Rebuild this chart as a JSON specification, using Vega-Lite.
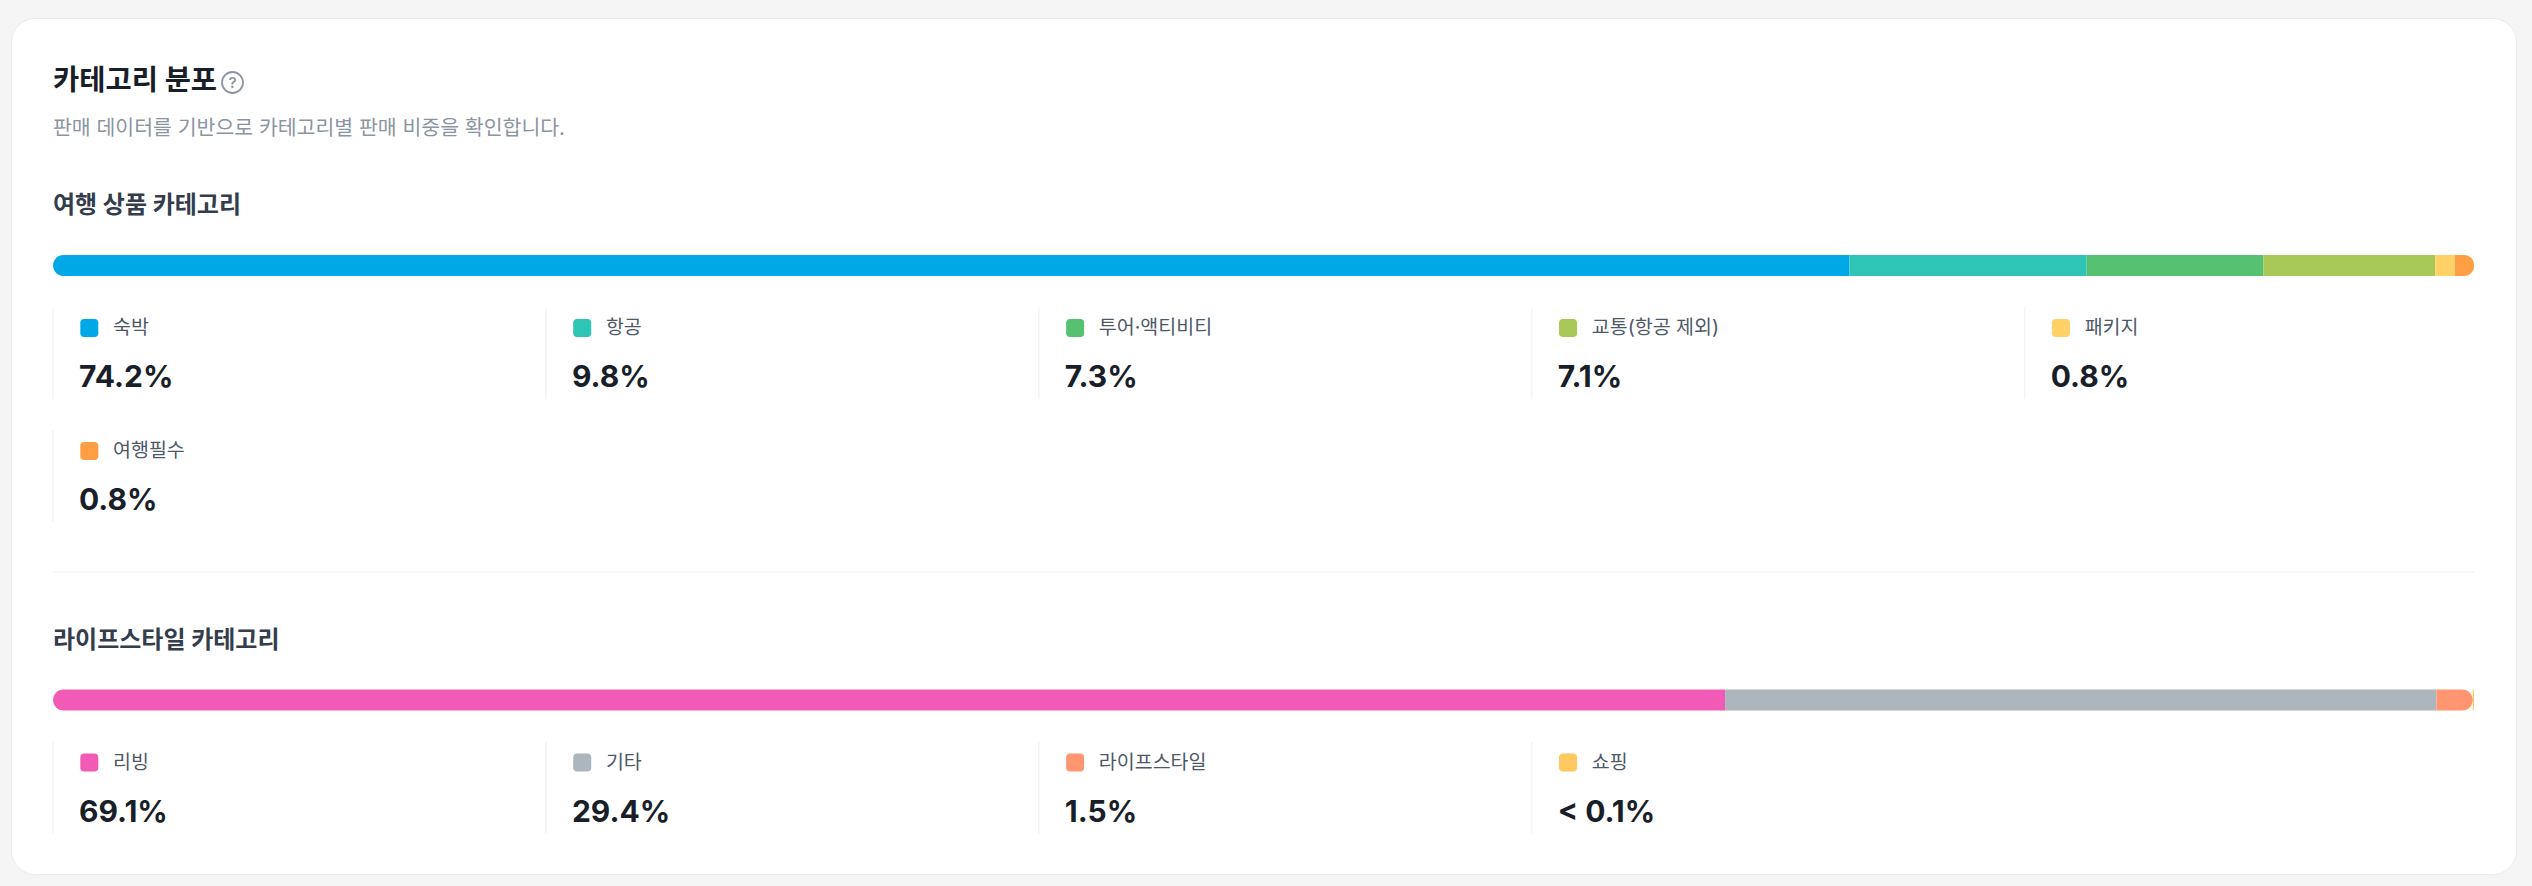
{
  "$schema": "https://vega.github.io/schema/vega-lite/v6.json",
  "description": "카테고리 분포 - 여행 / 라이프스타일 카테고리별 판매 비중",
  "width": 2532,
  "height": 886,
  "autosize": {"type": "fit", "contains": "padding"},
  "padding": {"left": 11, "top": 18, "right": 16, "bottom": 12},
  "background": "#f5f5f5",
  "config": {
    "view": {"fill": "#ffffff", "stroke": "#ebebeb", "strokeWidth": 1, "cornerRadius": 24},
    "axis": {"disable": true},
    "text": {"font": "Inter, Noto Sans CJK KR", "align": "left", "baseline": "middle"}
  },
  "layer": [
    {
      "data": {"values": [{}]},
      "layer": [
        {
          "mark": {"type": "text", "fontSize": 28.5, "fontWeight": 700, "color": "#191f28"},
          "encoding": {
            "x": {"datum": 0, "type": "quantitative", "scale": {"domain": [-0.01735, 1.01735], "nice": false, "zero": false}},
            "y": {"datum": 63, "type": "quantitative", "scale": {"domain": [0, 856], "reverse": true, "nice": false, "zero": false}},
            "text": {"value": "카테고리 분포"}
          }
        },
        {
          "mark": {"type": "point", "shape": "circle", "size": 441, "filled": false, "stroke": "#8b95a1", "strokeWidth": 1.8, "opacity": 1, "xOffset": 179.5},
          "encoding": {
            "x": {"datum": 0, "type": "quantitative"},
            "y": {"datum": 64.5, "type": "quantitative"}
          }
        },
        {
          "mark": {"type": "text", "fontSize": 15, "fontWeight": 600, "color": "#8b95a1", "align": "center", "dx": 179.5},
          "encoding": {
            "x": {"datum": 0, "type": "quantitative"},
            "y": {"datum": 65, "type": "quantitative"},
            "text": {"value": "?"}
          }
        },
        {
          "mark": {"type": "text", "fontSize": 20.5, "color": "#8b95a1"},
          "encoding": {
            "x": {"datum": 0, "type": "quantitative"},
            "y": {"datum": 111, "type": "quantitative"},
            "text": {"value": "판매 데이터를 기반으로 카테고리별 판매 비중을 확인합니다."}
          }
        },
        {
          "mark": {"type": "rule", "color": "#f2f4f6", "strokeWidth": 1.5},
          "encoding": {
            "x": {"datum": 0, "type": "quantitative"},
            "x2": {"datum": 1},
            "y": {"datum": 554, "type": "quantitative"}
          }
        }
      ]
    },
    {
      "data": {
        "values": [
          {"group": "여행 상품 카테고리", "category": "숙박", "share": 74.2},
          {"group": "여행 상품 카테고리", "category": "항공", "share": 9.8},
          {"group": "여행 상품 카테고리", "category": "투어·액티비티", "share": 7.3},
          {"group": "여행 상품 카테고리", "category": "교통(항공 제외)", "share": 7.1},
          {"group": "여행 상품 카테고리", "category": "패키지", "share": 0.8},
          {"group": "여행 상품 카테고리", "category": "여행필수", "share": 0.8},
          {"group": "라이프스타일 카테고리", "category": "리빙", "share": 69.1},
          {"group": "라이프스타일 카테고리", "category": "기타", "share": 29.4},
          {"group": "라이프스타일 카테고리", "category": "라이프스타일", "share": 1.5},
          {"group": "라이프스타일 카테고리", "category": "쇼핑", "share": 0.05}
        ]
      },
      "transform": [
        {"window": [{"op": "row_number", "as": "idx"}], "groupby": ["group"]},
        {"stack": "share", "groupby": ["group"], "sort": [{"field": "idx", "order": "ascending"}], "offset": "normalize", "as": ["s0", "s1"]},
        {"calculate": "datum.group === '여행 상품 카테고리' ? 237 : 671.5", "as": "bt"},
        {"calculate": "datum.bt + 21", "as": "bb"},
        {"calculate": "datum.bt - 49", "as": "hy"},
        {"calculate": "((datum.idx - 1) % 5) * 0.2036", "as": "cx"},
        {"calculate": "datum.bt + 123 * floor((datum.idx - 1) / 5)", "as": "rt"},
        {"calculate": "datum.rt + 73", "as": "ly"},
        {"calculate": "datum.rt + 123", "as": "vy"},
        {"calculate": "datum.rt + 52", "as": "lt"},
        {"calculate": "datum.rt + 144", "as": "lb"},
        {"calculate": "datum.share < 0.1 ? '< 0.1%' : format(datum.share, '.1f') + '%'", "as": "pct"}
      ],
      "layer": [
        {
          "transform": [{"filter": "datum.idx == 1"}],
          "mark": {"type": "rect", "cornerRadiusTopLeft": 10.5, "cornerRadiusBottomLeft": 10.5},
          "encoding": {
            "x": {"field": "s0", "type": "quantitative"},
            "x2": {"field": "s1"},
            "y": {"field": "bt", "type": "quantitative"},
            "y2": {"field": "bb"},
            "color": {"field": "category", "type": "nominal", "legend": null,
              "scale": {
                "domain": ["숙박", "항공", "투어·액티비티", "교통(항공 제외)", "패키지", "여행필수", "리빙", "기타", "라이프스타일", "쇼핑"],
                "range": ["#00a8e6", "#2ec4b6", "#56c271", "#a8c957", "#ffd166", "#ff9f43", "#f15bb5", "#adb5bd", "#ff9671", "#ffc75f"]
              }}
          }
        },
        {
          "transform": [{"filter": "datum.idx > 1 && !(datum.s1 > 0.999 && datum.s1 - datum.s0 > 0.005)"}],
          "mark": {"type": "rect"},
          "encoding": {
            "x": {"field": "s0", "type": "quantitative"},
            "x2": {"field": "s1"},
            "y": {"field": "bt", "type": "quantitative"},
            "y2": {"field": "bb"},
            "color": {"field": "category", "type": "nominal", "legend": null}
          }
        },
        {
          "transform": [{"filter": "datum.idx > 1 && datum.s1 > 0.999 && datum.s1 - datum.s0 > 0.005"}],
          "mark": {"type": "rect", "cornerRadiusTopRight": 10.5, "cornerRadiusBottomRight": 10.5},
          "encoding": {
            "x": {"field": "s0", "type": "quantitative"},
            "x2": {"field": "s1"},
            "y": {"field": "bt", "type": "quantitative"},
            "y2": {"field": "bb"},
            "color": {"field": "category", "type": "nominal", "legend": null}
          }
        },
        {
          "transform": [{"filter": "datum.idx == 1"}],
          "mark": {"type": "text", "fontSize": 24, "fontWeight": 700, "color": "#333d4b"},
          "encoding": {
            "x": {"datum": 0, "type": "quantitative"},
            "y": {"field": "hy", "type": "quantitative"},
            "text": {"field": "group"}
          }
        },
        {
          "mark": {"type": "rule", "color": "#f2f4f6", "strokeWidth": 1.5},
          "encoding": {
            "x": {"field": "cx", "type": "quantitative"},
            "y": {"field": "lt", "type": "quantitative"},
            "y2": {"field": "lb"}
          }
        },
        {
          "mark": {"type": "point", "filled": true, "opacity": 1, "size": 324, "xOffset": 36.3,
            "shape": "M-0.6,-1H0.6A0.4,0.4,0,0,1,1,-0.6V0.6A0.4,0.4,0,0,1,0.6,1H-0.6A0.4,0.4,0,0,1,-1,0.6V-0.6A0.4,0.4,0,0,1,-0.6,-1Z"},
          "encoding": {
            "x": {"field": "cx", "type": "quantitative"},
            "y": {"field": "ly", "type": "quantitative"},
            "color": {"field": "category", "type": "nominal", "legend": null}
          }
        },
        {
          "mark": {"type": "text", "fontSize": 19.5, "color": "#4e5968", "dx": 60},
          "encoding": {
            "x": {"field": "cx", "type": "quantitative"},
            "y": {"field": "ly", "type": "quantitative"},
            "text": {"field": "category"}
          }
        },
        {
          "mark": {"type": "text", "font": "Inter", "fontSize": 30, "fontWeight": 700, "color": "#191f28", "dx": 26},
          "encoding": {
            "x": {"field": "cx", "type": "quantitative"},
            "y": {"field": "vy", "type": "quantitative"},
            "text": {"field": "pct"}
          }
        }
      ]
    }
  ]
}
